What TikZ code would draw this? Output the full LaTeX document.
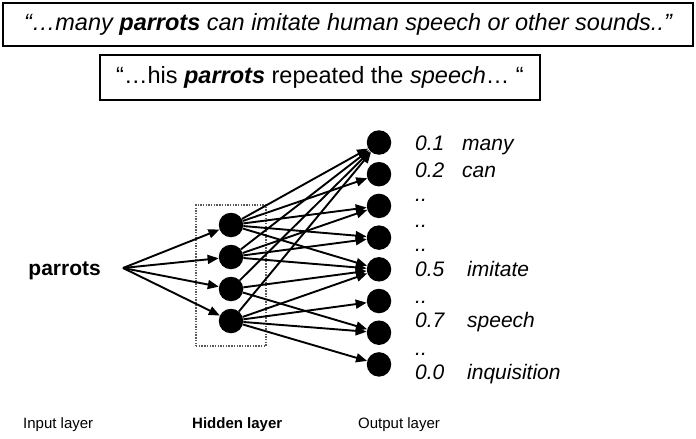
\documentclass[tikz,border=0pt]{standalone}
\usepackage{fontspec}
\setmainfont{Liberation Sans}
\usetikzlibrary{arrows.meta}

\tikzset{
  neuron/.style={circle, fill=black, inner sep=0pt, minimum size=24.5pt},
  link/.style={-{Triangle[length=11pt,width=9pt]}, line width=1.9pt},
  quotebox/.style={draw, line width=1.4pt, inner sep=0pt},
  quotetext/.style={font=\fontsize{23.5}{28}\selectfont},
  outlabel/.style={anchor=base west, inner sep=0pt, font=\fontsize{21}{25}\selectfont\itshape},
  layerlabel/.style={anchor=base west, inner sep=0pt, font=\fontsize{15}{18}\selectfont},
  hiddenframe/.style={draw=black!65, line width=1.5pt, dash pattern=on 1.4pt off 1.3pt, inner sep=0pt}
}

\begin{document}
\begin{tikzpicture}[x=1pt, y=-1pt]
\useasboundingbox (0,0) rectangle (696,439);

% quoted sentences
\node[quotebox, minimum width=690pt, minimum height=43pt] (ctxA) at (348,24.5) {};
\node[quotetext] (ctxAtext) at (348,24.5) {\itshape “…many \textbf{parrots} can imitate human speech or other sounds..”};
\node[quotebox, minimum width=440pt, minimum height=45pt] (ctxB) at (320,77.5) {};
\node[quotetext] (ctxBtext) at (320,77.5) {“…his \textbf{\textit{parrots}} repeated the \textit{speech}… “};

% input word
\node[anchor=base east, inner sep=0pt, font=\fontsize{21}{25}\selectfont\bfseries] (word) at (101,275.5) {parrots};
\coordinate (in) at (123,268);

% hidden layer frame and neurons
\node[hiddenframe, minimum width=70pt, minimum height=141pt] (frame) at (231,275.5) {};
\foreach \i/\y in {1/225, 2/257, 3/289, 4/321}
  \node[neuron] (h\i) at (231,\y) {};

% output neurons
\foreach \i/\y in {1/142.5, 2/174.2, 3/205.9, 4/237.6, 5/269.3, 6/301, 7/332.7, 8/364.4}
  \node[neuron] (o\i) at (379,\y) {};

% input -> hidden
\foreach \i in {1,...,4}
  \draw[link] (in) -- (h\i);

% hidden -> output
\foreach \h/\o in {1/1, 1/2, 1/3, 1/4, 1/5,
                   2/1, 2/3, 2/4, 2/5,
                   3/1, 3/5, 3/7,
                   4/1, 4/5, 4/6, 4/7, 4/8}
  \draw[link] (h\h) -- (o\o);

% output probabilities
\node[outlabel] (p1) at (415,150.5) {0.1};
\node[outlabel] (w1) at (462,150.5) {many};
\node[outlabel] (p2) at (415,177.5) {0.2};
\node[outlabel] (w2) at (462,177.5) {can};
\node[outlabel] (d1) at (415,201.5) {..};
\node[outlabel] (d2) at (415,227.5) {..};
\node[outlabel] (d3) at (415,251.5) {..};
\node[outlabel] (p5) at (415,276.5) {0.5};
\node[outlabel] (w5) at (467,276.5) {imitate};
\node[outlabel] (d4) at (415,303.5) {..};
\node[outlabel] (p7) at (415,327.5) {0.7};
\node[outlabel] (w7) at (467,327.5) {speech};
\node[outlabel] (d5) at (415,355.5) {..};
\node[outlabel] (p8) at (415,379.5) {0.0};
\node[outlabel] (w8) at (467,379.5) {inquisition};

% layer captions
\node[layerlabel] (capin) at (23,428) {Input layer};
\node[layerlabel, font=\fontsize{15}{18}\selectfont\bfseries] (caphid) at (192,428) {Hidden layer};
\node[layerlabel] (capout) at (358,428) {Output layer};
\end{tikzpicture}
\end{document}
